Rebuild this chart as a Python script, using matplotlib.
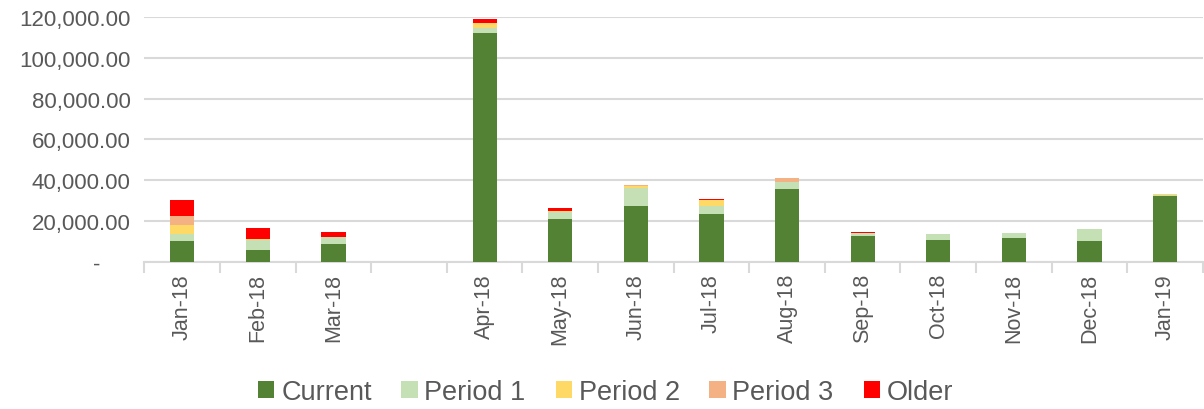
import matplotlib.pyplot as plt
import numpy as np

months = ['Jan-18', 'Feb-18', 'Mar-18', '', 'Apr-18', 'May-18', 'Jun-18', 'Jul-18',
          'Aug-18', 'Sep-18', 'Oct-18', 'Nov-18', 'Dec-18', 'Jan-19']

current = [10300, 5900, 8800, 0, 112200, 21000, 27200, 23300, 35800, 12700, 10800, 11800, 10300, 32300]
period1 = [3400, 4900, 3300, 0, 2600, 3300, 9200, 4200, 3100, 1500, 2900, 2400, 5700, 300]
period2 = [4400, 200, 300, 0, 2100, 400, 800, 2600, 300, 0, 0, 0, 300, 700]
period3 = [4400, 300, 0, 0, 0, 0, 400, 0, 2000, 0, 0, 0, 0, 0]
older = [7800, 5500, 2300, 0, 2000, 1800, 300, 500, 0, 400, 0, 0, 0, 0]

series = [('Current', current, '#548235'),
          ('Period 1', period1, '#C5E0B4'),
          ('Period 2', period2, '#FFD966'),
          ('Period 3', period3, '#F4B183'),
          ('Older', older, '#FF0000')]

plt.rcParams['font.family'] = ['Liberation Sans', 'DejaVu Sans']

fig = plt.figure(figsize=(12.04, 4.10), dpi=100)
ax = fig.add_axes([0.12, 0.359, 0.879, 0.597])

x = np.arange(len(months))
bottom = np.zeros(len(months))
for name, vals, color in series:
    vals = np.array(vals, dtype=float)
    ax.bar(x, vals, 0.32, bottom=bottom, color=color, label=name, zorder=3)
    bottom += vals

ax.set_xlim(-0.5, len(months) - 0.5)
ax.set_ylim(0, 120000)
ax.set_yticks(np.arange(0, 120001, 20000))
ax.set_yticklabels(['-     '] + ['{:,.2f}'.format(v) for v in range(20000, 120001, 20000)],
                   fontsize=16, color='#595959')
ax.yaxis.grid(True, color='#D9D9D9', linewidth=1.5, zorder=0)
ax.tick_params(axis='y', length=0, pad=10)

ax.set_xticks(x)
ax.set_xticklabels(months, rotation=90, fontsize=15.5, color='#595959')
ax.set_xticks(np.arange(-0.5, len(months), 1), minor=True)
ax.tick_params(axis='x', which='major', length=0, pad=8)
ax.tick_params(axis='x', which='minor', length=8, width=1.5, color='#D9D9D9')

for s in ['top', 'right', 'left']:
    ax.spines[s].set_visible(False)
ax.spines['bottom'].set_color('#D9D9D9')
ax.spines['bottom'].set_linewidth(1.5)

fig.legend(loc='center', bbox_to_anchor=(0.503, 0.042), ncol=5, frameon=False,
           fontsize=19.5, handlelength=0.6, handleheight=0.6, handletextpad=0.25,
           columnspacing=1.1, labelcolor='#595959')

fig.savefig('out.png', dpi=100)
